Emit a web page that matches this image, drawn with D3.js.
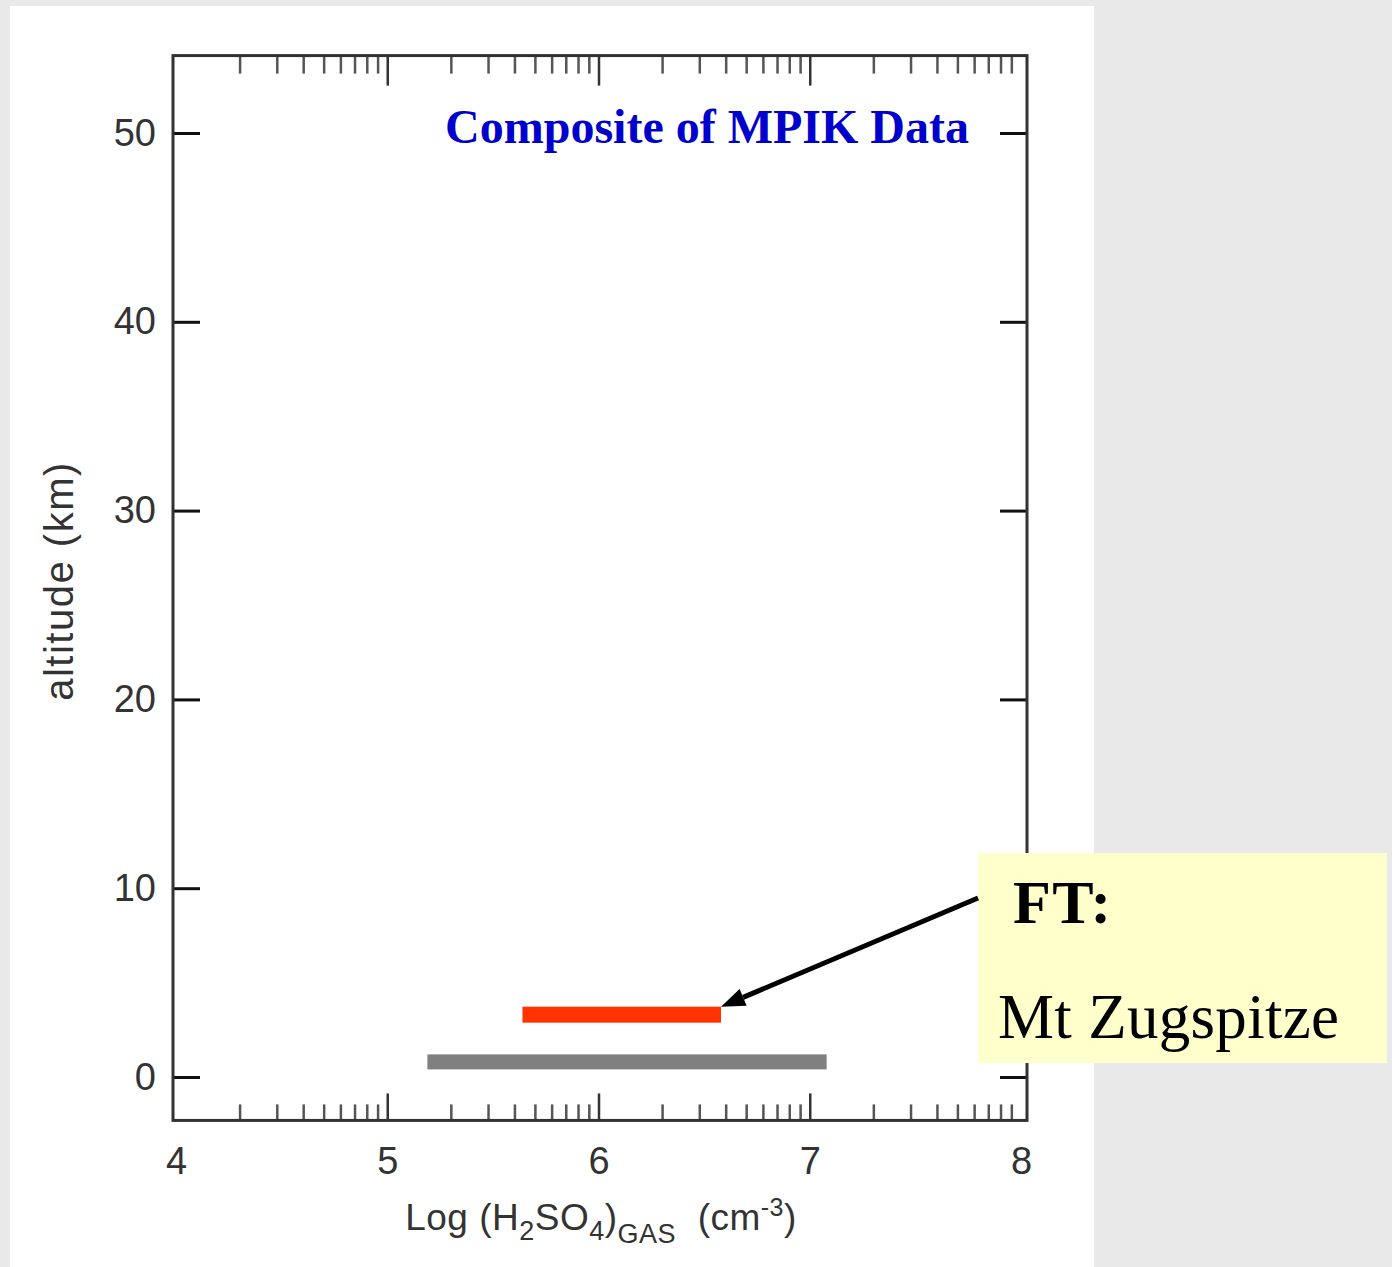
<!DOCTYPE html>
<html>
<head>
<meta charset="utf-8">
<script src="https://cdn.jsdelivr.net/npm/d3@7"></script>
<style>
  html, body { margin: 0; padding: 0; background: #e9e9e9; }
  svg { display: block; }
</style>
</head>
<body>
<script>
// Axis ranges and tick labels
const xDomain = [4, 8];
const yDomain = [-2.3, 54.1];
const xTickValues = [4, 5, 6, 7, 8];
const yTickValues = [0, 10, 20, 30, 40, 50];

// Measured concentration ranges (log10 cm^-3) at each altitude (km)
const rangeNames = ["FT: Mt Zugspitze", "surface"];
const rangeLow = [5.64, 5.19];
const rangeHigh = [6.58, 7.08];
const rangeAltitude = [3.3, 0.8];

const W = 1392, H = 1267;
const svg = d3.select("body").append("svg").attr("width", W).attr("height", H);

// white page area behind the figure
svg.append("rect").attr("x", 10).attr("y", 6).attr("width", 1084).attr("height", H - 6).attr("fill", "#ffffff");

const x = d3.scaleLinear().domain(xDomain).range([176, 1021]);
const y = d3.scaleLinear().domain([0, 50]).range([1077, 133]);

const frameLeft = 173, frameRight = 1027;
const frameTop = y(yDomain[1]), frameBottom = y(yDomain[0]);

// log-decade minor tick positions
const minorTicks = [];
for (let n = xDomain[0]; n < xDomain[1]; n++) {
  for (let k = 2; k <= 9; k++) minorTicks.push(n + Math.log10(k));
}
const innerTicks = xTickValues.slice(1, -1);

const font = "'Liberation Sans', Arial, Helvetica, sans-serif";
const serif = "'Liberation Serif', 'Times New Roman', serif";

function styleAxis(g) {
  g.select(".domain").remove();
  g.selectAll("text").attr("font-family", font).attr("font-size", 38).attr("fill", "#333");
}

// left axis: major ticks inward with labels
svg.append("g").attr("transform", `translate(${frameLeft},0)`)
  .call(d3.axisLeft(y).tickValues(yTickValues).tickSize(-27).tickPadding(17).tickFormat(d3.format("d")))
  .call(styleAxis)
  .selectAll("line").attr("stroke", "#111").attr("stroke-width", 3);

// right axis: ticks only
svg.append("g").attr("transform", `translate(${frameRight},0)`)
  .call(d3.axisRight(y).tickValues(yTickValues).tickSize(-27).tickFormat(""))
  .call(styleAxis)
  .selectAll("line").attr("stroke", "#111").attr("stroke-width", 3);

// bottom axis: labels, major and minor ticks
svg.append("g").attr("transform", `translate(0,${frameBottom})`)
  .call(d3.axisBottom(x).tickValues(xTickValues).tickSize(0).tickPadding(27).tickFormat(d3.format("d")))
  .call(styleAxis);
svg.append("g").attr("transform", `translate(0,${frameBottom})`)
  .call(d3.axisBottom(x).tickValues(innerTicks).tickSize(-27).tickFormat(""))
  .call(styleAxis)
  .selectAll("line").attr("stroke", "#333").attr("stroke-width", 2.5);
svg.append("g").attr("transform", `translate(0,${frameBottom})`)
  .call(d3.axisBottom(x).tickValues(minorTicks).tickSize(-16).tickFormat(""))
  .call(styleAxis)
  .selectAll("line").attr("stroke", "#555").attr("stroke-width", 2.5);

// top axis: major and minor ticks
svg.append("g").attr("transform", `translate(0,${frameTop})`)
  .call(d3.axisTop(x).tickValues(innerTicks).tickSize(-30).tickFormat(""))
  .call(styleAxis)
  .selectAll("line").attr("stroke", "#333").attr("stroke-width", 2.5);
svg.append("g").attr("transform", `translate(0,${frameTop})`)
  .call(d3.axisTop(x).tickValues(minorTicks).tickSize(-18).tickFormat(""))
  .call(styleAxis)
  .selectAll("line").attr("stroke", "#555").attr("stroke-width", 2.5);

// plot frame
svg.append("rect").attr("x", frameLeft).attr("y", frameTop)
  .attr("width", frameRight - frameLeft).attr("height", frameBottom - frameTop)
  .attr("fill", "none").attr("stroke", "#333").attr("stroke-width", 3);

// axis titles
svg.append("text")
  .attr("transform", `translate(73,581) rotate(-90)`)
  .attr("text-anchor", "middle")
  .attr("font-family", font).attr("font-size", 40).attr("letter-spacing", 1.5).attr("fill", "#333")
  .text("altitude (km)");

const xl = svg.append("text").attr("x", 601).attr("y", 1230).attr("text-anchor", "middle")
  .attr("font-family", font).attr("font-size", 37).attr("letter-spacing", 0.5).attr("fill", "#333");
xl.append("tspan").text("Log (H");
xl.append("tspan").attr("font-size", 27).attr("dy", 10).text("2");
xl.append("tspan").attr("dy", -10).text("SO");
xl.append("tspan").attr("font-size", 27).attr("dy", 10).text("4");
xl.append("tspan").attr("dy", -10).text(")");
xl.append("tspan").attr("font-size", 27).attr("dy", 13).text("GAS");
xl.append("tspan").attr("dy", -13).text("\u00a0\u00a0(cm");
xl.append("tspan").attr("font-size", 25).attr("dy", -14).text("-3");
xl.append("tspan").attr("dy", 14).text(")");

// chart title
svg.append("text").attr("x", 707).attr("y", 143).attr("text-anchor", "middle")
  .attr("font-family", serif)
  .attr("font-weight", "bold").attr("font-size", 48).attr("fill", "#0000cc")
  .text("Composite of MPIK Data");

// concentration range bars
const barColors = ["#ff3300", "#808080"];
const barThickness = [16, 15];
svg.append("g").selectAll("rect").data(rangeNames).join("rect")
  .attr("x", (d, i) => x(rangeLow[i]))
  .attr("width", (d, i) => x(rangeHigh[i]) - x(rangeLow[i]))
  .attr("y", (d, i) => y(rangeAltitude[i]) - barThickness[i] / 2)
  .attr("height", (d, i) => barThickness[i])
  .attr("fill", (d, i) => barColors[i]);

// callout box
const box = { x: 978, y: 853, w: 409, h: 210 };
svg.append("rect").attr("x", box.x).attr("y", box.y).attr("width", box.w).attr("height", box.h).attr("fill", "#ffffcc");
svg.append("text").attr("x", 1013).attr("y", 923)
  .attr("font-family", serif)
  .attr("font-weight", "bold").attr("font-size", 62).attr("letter-spacing", 1.5).attr("fill", "#000").text("FT:");
svg.append("text").attr("x", 998).attr("y", 1038)
  .attr("font-family", serif)
  .attr("font-size", 63).attr("letter-spacing", 0.3).attr("fill", "#000").text("Mt Zugspitze");

// arrow from the callout to the end of the Zugspitze bar
const tipX = x(rangeHigh[0]), tipY = y(rangeAltitude[0]) - 8;
const tailX = box.x, tailY = 898;
const ang = Math.atan2(tipY - tailY, tipX - tailX);
const headLen = 24, headW = 9;
const baseX = tipX - headLen * Math.cos(ang), baseY = tipY - headLen * Math.sin(ang);
svg.append("line").attr("x1", tailX).attr("y1", tailY).attr("x2", baseX).attr("y2", baseY)
  .attr("stroke", "#000").attr("stroke-width", 5);
svg.append("path")
  .attr("d", `M${tipX},${tipY}L${baseX + headW * Math.sin(ang)},${baseY - headW * Math.cos(ang)}L${baseX - headW * Math.sin(ang)},${baseY + headW * Math.cos(ang)}Z`)
  .attr("fill", "#000");
</script>
</body>
</html>
